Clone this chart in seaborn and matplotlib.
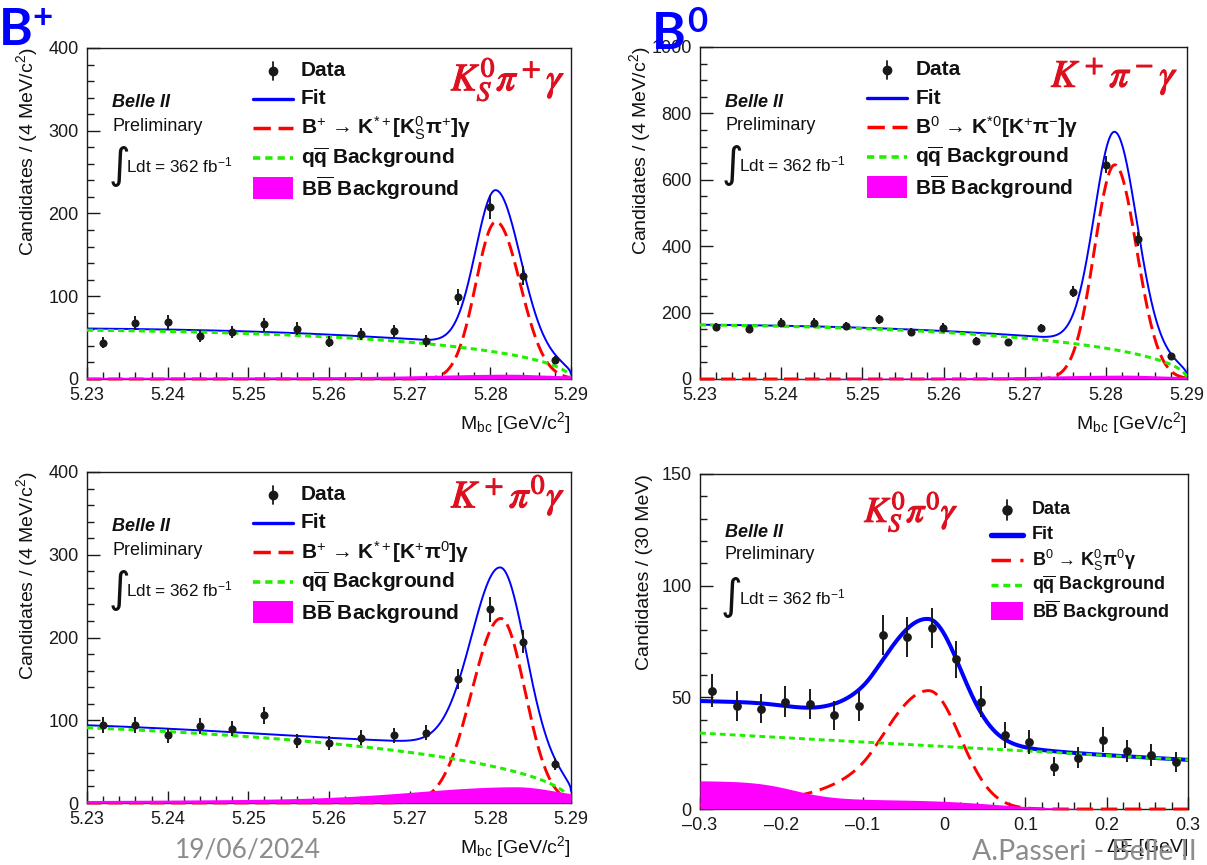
import numpy as np
import matplotlib
matplotlib.use("Agg")
import matplotlib.pyplot as plt
import matplotlib.patheffects as pe
from matplotlib.patches import Rectangle
from matplotlib.ticker import MultipleLocator, FuncFormatter
import seaborn as sns

# ------------------------------------------------------------------
# Binned candidates (4 MeV/c^2 bins in Mbc, 30 MeV bins in Delta E)
# ------------------------------------------------------------------
MBC_BINS = [5.232, 5.236, 5.240, 5.244, 5.248, 5.252, 5.256, 5.260,
            5.264, 5.268, 5.272, 5.276, 5.280, 5.284, 5.288]
KS_PIP_COUNTS = [44, 68, 69, 52, 57, 66, 61, 45, 54, 58, 46, 99, 208, 125, 23]
KP_PIM_COUNTS = [157, 150, 170, 170, 160, 180, 142, 155, 115, 111, 153, 263, 645, 422, 70]
KP_PI0_COUNTS = [94, 94, 82, 93, 90, 106, 75, 72, 79, 82, 85, 150, 234, 195, 47]

DE_BINS = [-0.285, -0.255, -0.225, -0.195, -0.165, -0.135, -0.105, -0.075,
           -0.045, -0.015, 0.015, 0.045, 0.075, 0.105, 0.135, 0.165,
           0.195, 0.225, 0.255, 0.285]
KS_PI0_COUNTS = [53, 46, 45, 48, 47, 42, 46, 78, 77, 81, 67, 48, 33, 30,
                 19, 23, 31, 26, 24, 21]

# ------------------------------------------------------------------
# Fit components (Mbc panels: K0S pi+ gamma, K+ pi- gamma, K+ pi0 gamma)
# ------------------------------------------------------------------
SIG_PEAK = [190, 645, 223]
SIG_MEAN = [5.2807, 5.2811, 5.2813]
SIG_SIGMA_LO = [0.0025, 0.0025, 0.0036]
SIG_SIGMA_HI = [0.0030, 0.0027, 0.0030]
QQ_AT_5230 = [59, 163, 91]
QQ_ARGUS_C = [-17.0, -17.0, -9.5]
BB_BASE = [2.0, 0.5, 3.0]
BB_SLOPE = [1.5, 6.0, 3.0]
BB_BUMP = [2.5, 6.0, 14.0]
BB_BUMP_MEAN = [5.282, 5.282, 5.283]
BB_BUMP_SIGMA_LO = [0.008, 0.010, 0.012]
BB_BUMP_SIGMA_HI = [0.004, 0.004, 0.005]

# Delta E panel (K0S pi0 gamma)
DE_SIG = dict(peak=53.0, mean=-0.019, sigma_lo=0.058, sigma_hi=0.039, alpha=1.2, n=3.0)
DE_QQ_ENDS = [34.0, 22.0]
DE_BB_STEPS = [8.5, 4.2]
DE_BB_EDGES = [-0.185, 0.06]
DE_BB_WIDTHS = [0.025, 0.04]

PANEL_TAGS = [r"$K^0_S\pi^+\gamma$", r"$K^+\pi^-\gamma$", r"$K^+\pi^0\gamma$", r"$K^0_S\pi^0\gamma$"]
SIGNAL_LABELS = [
    r"B$^{+}$ → K$^{*+}$[K$^{0}_{\rm S}$π$^{+}$]γ",
    r"B$^{0}$ → K$^{*0}$[K$^{+}$π$^{-}$]γ",
    r"B$^{+}$ → K$^{*+}$[K$^{+}$π$^{0}$]γ",
    r"B$^{0}$ → K$^{0}_{\rm S}$π$^{0}$γ",
]

# ------------------------------------------------------------------
W, H = 1207, 865
sns.set_theme(style="white")
plt.rcParams["font.family"] = ["Liberation Sans", "DejaVu Sans"]
plt.rcParams["mathtext.fontset"] = "custom"
plt.rcParams["mathtext.rm"] = "Liberation Sans"
plt.rcParams["mathtext.it"] = "Liberation Sans:italic"
plt.rcParams["mathtext.bf"] = "Liberation Sans:bold"
plt.rcParams["text.color"] = "#111111"
plt.rcParams["axes.labelcolor"] = "#111111"

BLUE = "#0000ff"
RED = "#ff0000"
GREEN = "#22ee00"
MAGENTA = "#ff00ff"
TAG_RED = "#dd1020"

fig = plt.figure(figsize=(W / 100, H / 100), dpi=100)


def axes_px(l, r, t, b):
    return fig.add_axes([l / W, 1 - b / H, (r - l) / W, (b - t) / H])


def argus(x, c, m0=5.29):
    z = np.clip(1.0 - (x / m0) ** 2, 0.0, None)
    return x * np.sqrt(z) * np.exp(c * z)


def bifur_gauss(x, h, mu, s_lo, s_hi):
    s = np.where(x < mu, s_lo, s_hi)
    return h * np.exp(-0.5 * ((x - mu) / s) ** 2)


def crystal_ball_lo(x, peak, mean, sigma_lo, sigma_hi, alpha, n):
    t = (x - mean) / np.where(x < mean, sigma_lo, sigma_hi)
    a = (n / alpha) ** n * np.exp(-0.5 * alpha ** 2)
    b = n / alpha - alpha
    tail = a / np.maximum(b - t, 1e-6) ** n
    return peak * np.where(t < -alpha, tail, np.exp(-0.5 * t ** 2))


def style_axes(ax, xlim, ylim, xmaj, xmin, ymaj, ymin, xfmt):
    ax.set_xlim(*xlim)
    ax.set_ylim(*ylim)
    ax.xaxis.set_major_locator(MultipleLocator(xmaj))
    ax.xaxis.set_minor_locator(MultipleLocator(xmin))
    ax.yaxis.set_major_locator(MultipleLocator(ymaj))
    ax.yaxis.set_minor_locator(MultipleLocator(ymin))
    ax.xaxis.set_major_formatter(FuncFormatter(xfmt))
    ax.yaxis.set_major_formatter(FuncFormatter(lambda v, p: f"{v:g}"))
    ax.tick_params(which="both", direction="in", bottom=True, left=True,
                   top=False, right=False, color="k", labelcolor="#1a1a1a")
    ax.tick_params(which="major", length=9, width=1.0, labelsize=13, pad=6)
    ax.tick_params(which="minor", length=5, width=1.0)
    for s in ax.spines.values():
        s.set_color("k")
        s.set_linewidth(1.0)
    ax.set_facecolor("white")


def draw_key(ax, rows, x0, x1, xt, label, fs, lw_fit, lw_sig, lw_qq,
             dash_sig, dash_qq, bar, box_h, ms):
    tr = ax.transAxes
    xm = 0.5 * (x0 + x1)
    ax.plot([xm, xm], [rows[0] - bar, rows[0] + bar], color="k", lw=1.3,
            transform=tr, clip_on=False, zorder=8)
    ax.plot([xm], [rows[0]], "o", color="k", ms=ms, transform=tr,
            clip_on=False, zorder=8)
    ax.plot([x0, x1], [rows[1]] * 2, color=BLUE, lw=lw_fit + 1.0,
            transform=tr, clip_on=False, zorder=8)
    ax.plot([x0, x1], [rows[2]] * 2, color=RED, lw=lw_sig + 0.4,
            linestyle=(0, dash_sig), transform=tr, clip_on=False, zorder=8)
    ax.plot([x0, x1], [rows[3]] * 2, color=GREEN, lw=lw_qq + 0.4,
            linestyle=(0, dash_qq), transform=tr, clip_on=False, zorder=8)
    ax.add_patch(Rectangle((x0, rows[4] - box_h / 2), x1 - x0, box_h,
                           transform=tr, color=MAGENTA, lw=0, clip_on=False,
                           zorder=8))
    texts = ["Data", "Fit", label,
             r"q$\mathbf{\overline{q}}$ Background",
             r"B$\mathbf{\overline{B}}$ Background"]
    for y, t in zip(rows, texts):
        ax.text(xt, y, t, transform=tr, fontsize=fs, fontweight="bold",
                va="center", ha="left", color="#111111", zorder=9)


def belle_block(ax, x, y_belle, y_prel, y_int, x_ldt, fs):
    tr = ax.transAxes
    ax.text(x, y_belle, "Belle II", transform=tr, fontsize=fs,
            fontweight="bold", fontstyle="italic", va="center", ha="left")
    ax.text(x, y_prel, "Preliminary", transform=tr, fontsize=fs,
            va="center", ha="left")
    ax.text(x - 0.008, y_int, "∫", transform=tr, fontsize=fs * 2.3,
            family=["DejaVu Sans"], va="center", ha="left")
    ax.text(x_ldt, y_int, r"Ldt = 362 fb$^{-1}$", transform=tr,
            fontsize=fs * 0.95, va="center", ha="left")


def draw_data(ax, xs, ns, size, elw):
    xs = np.asarray(xs, float)
    ns = np.asarray(ns, float)
    ax.errorbar(xs, ns, yerr=np.sqrt(ns), fmt="none", ecolor="k",
                elinewidth=elw, capsize=0, zorder=7)
    sns.scatterplot(x=xs, y=ns, ax=ax, color="k", s=size, linewidth=0,
                    zorder=8, legend=False)


mbc_fmt = lambda v, p: f"{v:.2f}"
de_fmt = lambda v, p: "0" if abs(v) < 1e-9 else f"{v:.1f}".replace("-", "\u2013")

# axes rectangles in pixels (left, right, top, bottom)
RECTS = [(87, 571, 48, 379), (700, 1187, 47, 379), (87, 571, 472, 803)]
YMAX = [400, 1000, 400]
YMAJ = [100, 200, 100]
YMIN = [20, 50, 20]
COUNTS = [KS_PIP_COUNTS, KP_PIM_COUNTS, KP_PI0_COUNTS]
TAG_POS = [(0.988, 0.872), (0.982, 0.880), (0.988, 0.893)]

xg = np.linspace(5.23, 5.29, 1201)
dash_sig_mbc = (5.0, 2.2)
dash_qq_mbc = (2.0, 1.4)

for i in range(3):
    ax = axes_px(*RECTS[i])
    qq = QQ_AT_5230[i] * argus(xg, QQ_ARGUS_C[i]) / argus(5.23, QQ_ARGUS_C[i])
    sig = bifur_gauss(xg, SIG_PEAK[i], SIG_MEAN[i], SIG_SIGMA_LO[i], SIG_SIGMA_HI[i])
    bb = (BB_BASE[i] + BB_SLOPE[i] * (xg - 5.23) / 0.06
          + bifur_gauss(xg, BB_BUMP[i], BB_BUMP_MEAN[i], BB_BUMP_SIGMA_LO[i], BB_BUMP_SIGMA_HI[i]))
    total = qq + sig + bb

    sns.lineplot(x=xg, y=total, ax=ax, color=BLUE, lw=1.4, zorder=3, legend=False)
    sns.lineplot(x=xg, y=sig, ax=ax, color=RED, lw=2.1, zorder=4, legend=False,
                 linestyle=(0, dash_sig_mbc), clip_on=False)
    sns.lineplot(x=xg, y=qq, ax=ax, color=GREEN, lw=2.2, zorder=4.5, legend=False,
                 linestyle=(0, dash_qq_mbc))
    ax.fill_between(xg, 0, bb, color=MAGENTA, lw=0, zorder=5)
    draw_data(ax, MBC_BINS, COUNTS[i], 34, 1.4)

    style_axes(ax, (5.23, 5.29), (0, YMAX[i]), 0.01, 0.002, YMAJ[i], YMIN[i], mbc_fmt)
    ax.set_xlabel(r"M$_{\rm bc}$ [GeV/c$^{2}$]", fontsize=14, loc="right")
    ax.xaxis.set_label_coords(1.0, -0.095)
    ax.xaxis.label.set_va("top")
    ax.set_ylabel(r"Candidates / (4 MeV/c$^{2}$)", fontsize=14, loc="top")
    ax.yaxis.set_label_coords(-0.097, 1.0)

    draw_key(ax, [0.931, 0.846, 0.758, 0.668, 0.577], 0.343, 0.426, 0.442,
             SIGNAL_LABELS[i], 15, 1.4, 2.1, 2.2, dash_sig_mbc, dash_qq_mbc,
             0.027, 0.066, 6)
    belle_block(ax, 0.052, 0.834, 0.764, 0.645, 0.080, 13)
    ax.text(*TAG_POS[i], PANEL_TAGS[i], transform=ax.transAxes, fontsize=28,
            color=TAG_RED, ha="right", va="baseline", math_fontfamily="stix",
            path_effects=[pe.withStroke(linewidth=0.8, foreground=TAG_RED)])

# ----------------------------- Delta E panel -----------------------------
ax = axes_px(700, 1188, 474, 809)
xd = np.linspace(-0.3, 0.3, 1201)
sig = crystal_ball_lo(xd, **DE_SIG)
qq = DE_QQ_ENDS[0] + (DE_QQ_ENDS[1] - DE_QQ_ENDS[0]) * (xd + 0.3) / 0.6
bb = sum(h / (1 + np.exp((xd - e) / w))
         for h, e, w in zip(DE_BB_STEPS, DE_BB_EDGES, DE_BB_WIDTHS))
total = sig + qq + bb
dash_sig_de = (5.6, 2.7)
dash_qq_de = (2.0, 1.4)
sns.lineplot(x=xd, y=total, ax=ax, color=BLUE, lw=2.9, zorder=3, legend=False)
sns.lineplot(x=xd, y=sig, ax=ax, color=RED, lw=2.1, zorder=4, legend=False,
             linestyle=(0, dash_sig_de), clip_on=False)
sns.lineplot(x=xd, y=qq, ax=ax, color=GREEN, lw=2.1, zorder=4.5, legend=False,
             linestyle=(0, dash_qq_de))
ax.fill_between(xd, 0, bb, color=MAGENTA, lw=0, zorder=5)
draw_data(ax, DE_BINS, KS_PI0_COUNTS, 40, 1.4)
style_axes(ax, (-0.3, 0.3), (0, 150), 0.1, 0.02, 50, 10, de_fmt)
ax.set_xlabel(r"ΔE [GeV]", fontsize=14, loc="right")
ax.xaxis.set_label_coords(1.0, -0.09)
ax.xaxis.label.set_va("top")
ax.set_ylabel("Candidates / (30 MeV)", fontsize=14, loc="top")
ax.yaxis.set_label_coords(-0.097, 1.0)
draw_key(ax, [0.893, 0.818, 0.743, 0.669, 0.591], 0.596, 0.662, 0.680,
         SIGNAL_LABELS[3], 13, 2.9, 2.1, 2.1, dash_sig_de, dash_qq_de,
         0.03, 0.055, 6.5)
belle_block(ax, 0.051, 0.824, 0.761, 0.632, 0.080, 13)
ax.text(0.336, 0.857, PANEL_TAGS[3], transform=ax.transAxes, fontsize=26,
        color=TAG_RED, ha="left", va="baseline", math_fontfamily="stix",
        path_effects=[pe.withStroke(linewidth=0.8, foreground=TAG_RED)])

# ----------------------------- slide annotations -----------------------------
LABEL_BLUE = "#0000ff"
fig.text(-1 / W, 1 - 45 / H, "B", fontsize=37, fontweight="bold", color=LABEL_BLUE,
         family=["Lato", "DejaVu Sans"], ha="left", va="baseline", zorder=20)
fig.text(43 / W, 1 - 18 / H, "+", fontsize=25, fontweight="bold", color=LABEL_BLUE,
         family=["Lato", "DejaVu Sans"], ha="center", va="center", zorder=20)
fig.text(652 / W, 1 - 49 / H, "B", fontsize=37, fontweight="bold", color=LABEL_BLUE,
         family=["Lato", "DejaVu Sans"], ha="left", va="baseline", zorder=20)
fig.text(697 / W, 1 - 22 / H, "0", fontsize=25, fontweight="bold", color=LABEL_BLUE,
         family=["Lato", "DejaVu Sans"], ha="center", va="center", zorder=20)
fig.text(175 / W, 1 - 850 / H, "19/06/2024", fontsize=19, color="#8c8c8c",
         family=["Lato", "DejaVu Sans"], ha="left", va="center")
fig.text(1197 / W, 1 - 852 / H, "A.Passeri - Belle II", fontsize=20.5, color="#8c8c8c",
         family=["Lato", "DejaVu Sans"], ha="right", va="center", zorder=20)

fig.savefig("out.png", dpi=100, facecolor="white")
